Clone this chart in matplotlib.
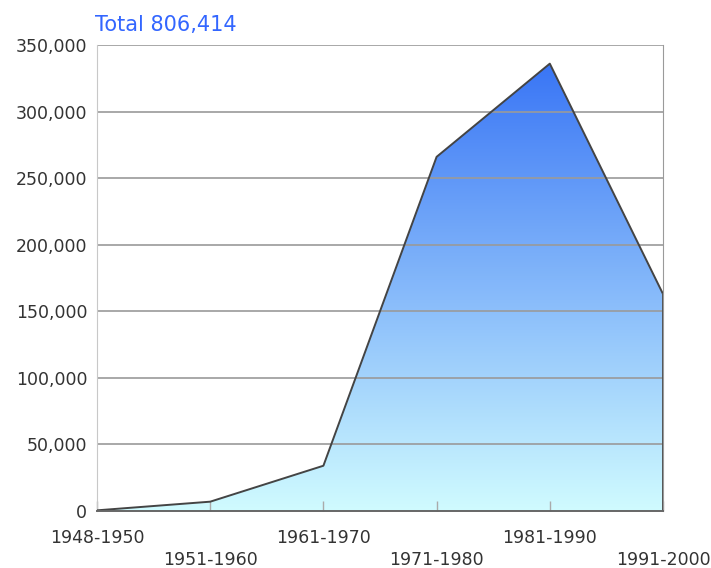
import matplotlib
matplotlib.use("Agg")
import matplotlib.pyplot as plt
import numpy as np
from matplotlib.colors import LinearSegmentedColormap

# immigrants by decade
decades = ['1948-1950', '1951-1960', '1961-1970', '1971-1980', '1981-1990', '1991-2000']
values = [500, 7000, 34000, 266000, 336000, 163000]
total_label = 'Total 806,414'
y_ticks = [0, 50000, 100000, 150000, 200000, 250000, 300000, 350000]

fig = plt.figure(figsize=(7.11, 5.68), dpi=100)
ax = fig.add_axes([97 / 711, 1 - 511 / 568, (663 - 97) / 711, (511 - 45) / 568])

x = np.arange(len(decades))
ymax = 350000

# gradient fill clipped to the area under the line
cmap = LinearSegmentedColormap.from_list('blues', ['#d0fbff', '#3370f5'])
grad = np.linspace(0, 1, 256).reshape(-1, 1)
poly = ax.fill_between(x, 0, values, facecolor='none', edgecolor='none')
img = ax.imshow(grad, cmap=cmap, origin='lower', aspect='auto',
                extent=[x[0], x[-1], 0, ymax], zorder=1)
img.set_clip_path(poly.get_paths()[0], transform=ax.transData)

# grid lines
for yt in y_ticks[1:]:
    ax.axhline(yt, color='#9a9a9a', lw=1.2, zorder=2)

ax.plot(x, values, color='#444444', lw=1.4, zorder=4)
ax.plot([x[-1], x[-1]], [0, values[-1]], color='#555555', lw=1.4, zorder=4)

ax.set_xlim(x[0], x[-1])
ax.set_ylim(0, ymax)

ax.set_yticks(y_ticks)
ax.set_yticklabels(['{:,}'.format(v) for v in y_ticks])
ax.tick_params(axis='y', length=0, pad=7, labelsize=12.5, labelcolor='#333333')

labels = [d if i % 2 == 0 else '\n' + d for i, d in enumerate(decades)]
ax.set_xticks(x)
ax.set_xticklabels(labels, linespacing=1.3)
ax.tick_params(axis='x', direction='in', length=7, color='#aaaaaa', width=1,
               pad=13, labelsize=12.5, labelcolor='#333333')
for t in ax.xaxis.get_major_ticks():
    t.tick1line.set_zorder(3)

ax.spines['top'].set_visible(False)
ax.spines['left'].set_color('#c8c8c8')
ax.spines['right'].set_color('#9a9a9a')
ax.spines['bottom'].set_color('#666666')
ax.spines['bottom'].set_linewidth(1.4)
ax.spines['bottom'].set_zorder(5)

fig.text(95 / 711, 1 - 31 / 568, total_label, color='#3366ff', fontsize=15,
         va='baseline', ha='left')

fig.savefig('out.png', dpi=100)
